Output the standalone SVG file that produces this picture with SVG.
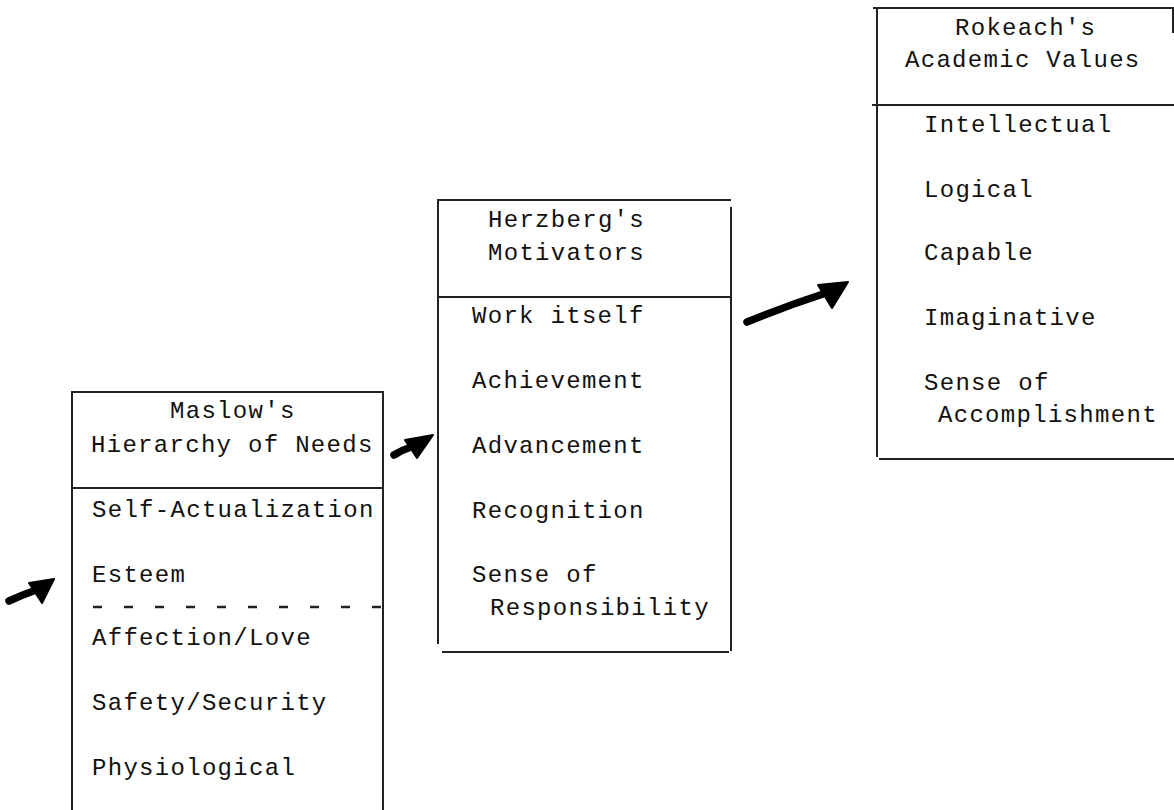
<svg xmlns="http://www.w3.org/2000/svg" width="1174" height="810" viewBox="0 0 1174 810">
<style>
.ln{stroke:#222;stroke-width:2;fill:none;stroke-linecap:square}
.dash{stroke:#222;stroke-width:2.5;fill:none;stroke-dasharray:9 22}
text{font-family:"Liberation Mono","DejaVu Sans Mono",monospace;font-size:24px;letter-spacing:1.3px;fill:#111}
.shaft{stroke:#000;stroke-width:7.5;stroke-linecap:round;fill:none}
.head{fill:#000;stroke:#000;stroke-width:2;stroke-linejoin:round}
</style>
<rect width="1174" height="810" fill="#fff"/>
<g id="maslow">
<path class="ln" d="M72,392 V810 M72,392 H383 M383,392 V810 M72,488 H383"/>
<path class="dash" d="M93,607 H383"/>
<text x="170" y="418">Maslow's</text>
<text x="91" y="452">Hierarchy of Needs</text>
<text x="92" y="517">Self-Actualization</text>
<text x="92" y="582">Esteem</text>
<text x="92" y="645">Affection/Love</text>
<text x="92" y="710">Safety/Security</text>
<text x="92" y="775">Physiological</text>
</g>
<g id="herzberg">
<path class="ln" d="M438,200 V643 M438,200 H730 M731,208 V650 M438,297 H731 M443,652 H728"/>
<text x="488" y="227">Herzberg's</text>
<text x="488" y="260">Motivators</text>
<text x="472" y="323">Work itself</text>
<text x="472" y="388">Achievement</text>
<text x="472" y="453">Advancement</text>
<text x="472" y="518">Recognition</text>
<text x="472" y="582">Sense of</text>
<text x="490" y="615">Responsibility</text>
</g>
<g id="rokeach">
<path class="ln" d="M877,10 V456 M874,8 H1174 M873,105 H1174 M880,459 H1174 M1173,8 V32"/>
<text x="955" y="35">Rokeach's</text>
<text x="905" y="67">Academic Values</text>
<text x="924" y="132">Intellectual</text>
<text x="924" y="197">Logical</text>
<text x="924" y="260">Capable</text>
<text x="924" y="325">Imaginative</text>
<text x="924" y="390">Sense of</text>
<text x="938" y="422">Accomplishment</text>
</g>
<g id="connectors">
<path class="shaft" d="M9,601 Q22,595 36,590"/>
<polygon class="head" points="29,583 54,579 42,603"/>
<path class="shaft" d="M394,455 Q402,450 411,447"/>
<polygon class="head" points="405,440 433,435 417,458"/>
<path class="shaft" d="M747,322 Q786,306 826,293"/>
<polygon class="head" points="818,285 848,282 832,308"/>
</g>
</svg>
